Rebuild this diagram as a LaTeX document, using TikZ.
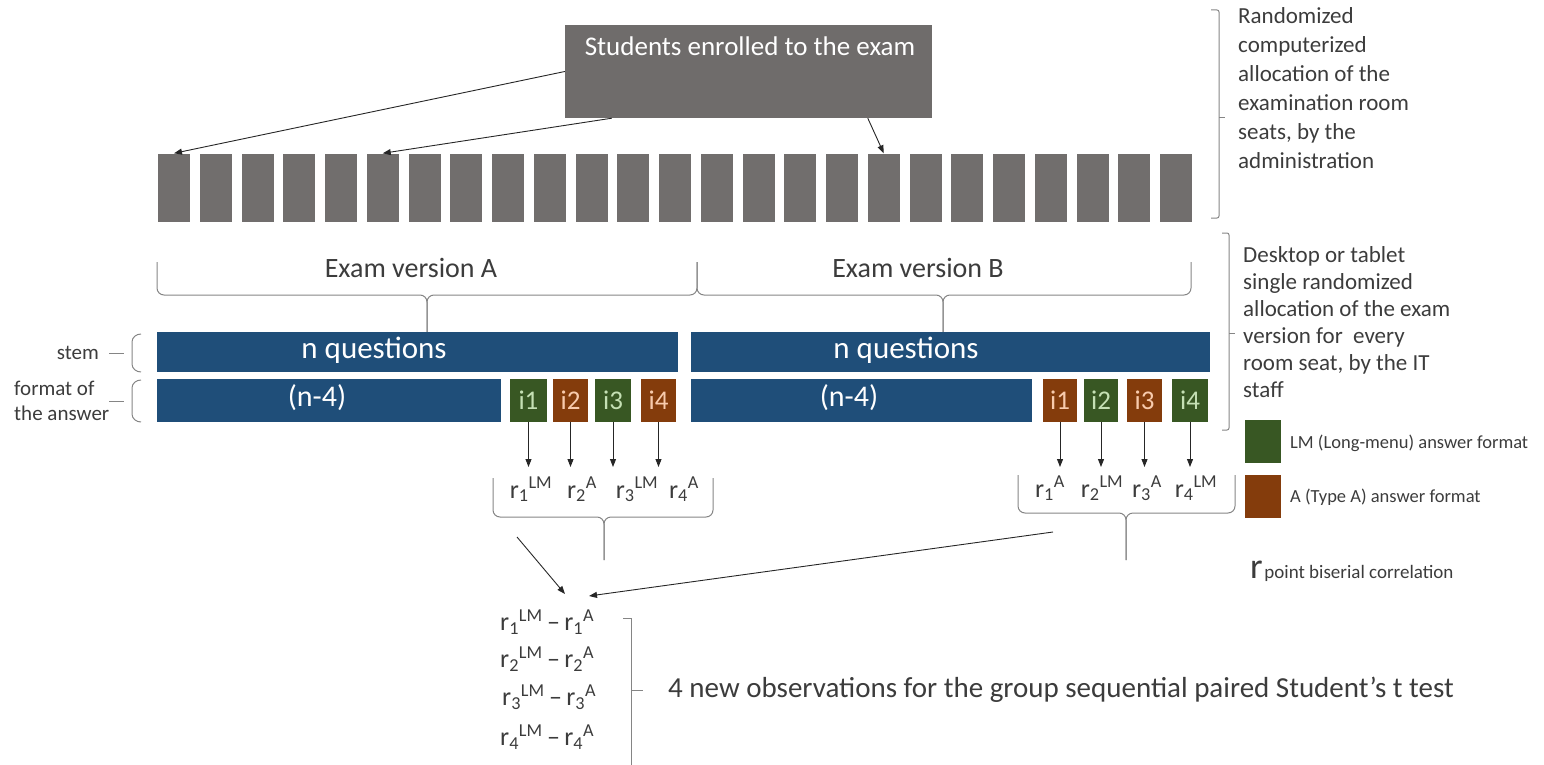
\documentclass[tikz,border=0pt]{standalone}
\usepackage{fontspec}
\setmainfont{Carlito}
\usetikzlibrary{arrows.meta}
\definecolor{seatgray}{HTML}{716E6D}
\definecolor{boxgray}{HTML}{6F6C6B}
\definecolor{qblue}{HTML}{1F4E79}
\definecolor{lmgreen}{HTML}{385723}
\definecolor{abrown}{HTML}{843C0C}
\definecolor{lmlight}{HTML}{C5E0B4}
\definecolor{alight}{HTML}{F8CBAD}
\definecolor{txt}{HTML}{3C3C3C}
\definecolor{brc}{HTML}{858585}
\definecolor{arrowc}{HTML}{262626}
\newcommand\rlab[2]{r\textsubscript{#1}\textsuperscript{#2}}
\begin{document}
\begin{tikzpicture}[x=1pt,y=-1pt,
  seat/.style={fill=seatgray, draw=none, minimum width=32pt, minimum height=68pt, inner sep=0pt},
  topbox/.style={fill=boxgray, draw=none, inner sep=0pt},
  bar/.style={fill=qblue, draw=none, inner sep=0pt, text=white, font=\fontsize{31}{31}\selectfont},
  lmbox/.style={fill=lmgreen, draw=none, inner sep=0pt, minimum height=43pt, text=lmlight, font=\fontsize{27}{27}\selectfont},
  abox/.style={fill=abrown, draw=none, inner sep=0pt, minimum height=43pt, text=alight, font=\fontsize{27}{27}\selectfont},
  conn/.style={-{Triangle[length=8pt,width=6pt]}, line width=0.9pt, draw=arrowc},
  bk/.style={draw=brc, line width=1pt},
  lbl/.style={text=txt, inner sep=0pt},
  rfont/.style={font=\fontsize{26}{28}\selectfont},
]
\useasboundingbox (0,0) rectangle (1544,765);

% top box
\node[topbox, minimum width=367pt, minimum height=93pt] (top) at (748.5,71.5) {};
\node[inner sep=0pt, text=white, font=\fontsize{27}{29}\selectfont] (toptext) at (750,46) {Students enrolled to the exam};

% seats
\foreach \i in {1,...,25}
  \node[seat] (s\i) at ({174+(\i-1)*41.75},187.5) {};

\draw[conn] (top.west) -- (s1.north);
\draw[conn] ([xshift=47pt]top.south west) -- (s6.north);
\draw[conn] ([xshift=303pt]top.south west) -- (s18.north);

% right bracket 1 and text
\draw[bk, rounded corners=2pt] (1211,10) -- (1219,10) -- (1219,218) -- (1211,218);
\draw[bk] (1219,118) -- (1225,118);
\node[lbl, anchor=north west, align=left, font=\fontsize{23}{29}\selectfont] (t1) at (1238,7)
 {Randomized\\computerized\\allocation of the\\examination room\\seats, by the\\administration};

% exam version braces
\draw[bk, rounded corners=7pt] (157,262) -- (157,295) -- (427,295) -- (427,332);
\draw[bk, rounded corners=7pt] (697,262) -- (697,295) -- (427,295) -- (427,332);
\draw[bk, rounded corners=7pt] (697,262) -- (697,295) -- (943,295) -- (943,332);
\draw[bk, rounded corners=7pt] (1191,262) -- (1191,295) -- (943,295) -- (943,332);
\node[lbl, font=\fontsize{28}{30}\selectfont] (exA) at (411,268) {Exam version A};
\node[lbl, font=\fontsize{28}{30}\selectfont] (exB) at (918,268) {Exam version B};

% right bracket 2 and text
\draw[bk, rounded corners=2pt] (1222,233) -- (1229,233) -- (1229,430) -- (1222,430);
\draw[bk] (1229,333) -- (1235,333);
\node[lbl, anchor=north west, align=left, font=\fontsize{23}{27}\selectfont] (t2) at (1243,246)
 {Desktop or tablet\\single randomized\\allocation of the exam\\version for\ \ every\\room seat, by the IT\\staff};

% bars
\node[bar, minimum width=521pt, minimum height=40pt] (nqA) at (417.5,352) {};
\node[bar, minimum width=519pt, minimum height=40pt] (nqB) at (950.5,352) {};
\node[inner sep=0pt, text=white, font=\fontsize{31}{31}\selectfont] (nqAt) at (374,350) {n questions};
\node[inner sep=0pt, text=white, font=\fontsize{31}{31}\selectfont] (nqBt) at (906,350) {n questions};
\node[bar, minimum width=344pt, minimum height=43pt] (fmA) at (329,400.5) {};
\node[bar, minimum width=341pt, minimum height=43pt] (fmB) at (861.5,400.5) {};
\node[inner sep=0pt, text=white, font=\fontsize{30}{30}\selectfont] (fmAt) at (317,398) {(n-4)};
\node[inner sep=0pt, text=white, font=\fontsize{30}{30}\selectfont] (fmBt) at (849,398) {(n-4)};

% item boxes
\node[lmbox, minimum width=37pt] (iA1) at (528.5,400.5) {i1};
\node[abox,  minimum width=35pt] (iA2) at (570.5,400.5) {i2};
\node[lmbox, minimum width=36pt] (iA3) at (613,400.5) {i3};
\node[abox,  minimum width=35pt] (iA4) at (658.5,400.5) {i4};
\node[abox,  minimum width=34pt] (iB1) at (1060,400.5) {i1};
\node[lmbox, minimum width=34pt] (iB2) at (1101,400.5) {i2};
\node[abox,  minimum width=35pt] (iB3) at (1144.5,400.5) {i3};
\node[lmbox, minimum width=36pt] (iB4) at (1190,400.5) {i4};

% left labels
\node[lbl, anchor=east, font=\fontsize{21}{23}\selectfont] (stem) at (99,353) {stem};
\node[lbl, anchor=west, align=left, font=\fontsize{21}{25}\selectfont] (fmt) at (14,401) {format of\\the answer};
\draw[bk] (141,334) to[out=180,in=90] (132,342) -- (132,364) to[out=-90,in=180] (141,372);
\draw[bk] (109,353) -- (124,353);
\draw[bk] (141,380) to[out=180,in=90] (132,388) -- (132,414) to[out=-90,in=180] (141,422);
\draw[bk] (109,401) -- (124,401);

% r labels
\coordinate (rtop) at (0,467);
\node[lbl, rfont, anchor=base] (rA1) at (531,498) {\rlab{1}{LM}};
\node[lbl, rfont, anchor=base] (rA2) at (582,498) {\rlab{2}{A}};
\node[lbl, rfont, anchor=base] (rA3) at (637,498) {\rlab{3}{LM}};
\node[lbl, rfont, anchor=base] (rA4) at (684,498) {\rlab{4}{A}};
\node[lbl, rfont, anchor=base] (rB1) at (1050,497) {\rlab{1}{A}};
\node[lbl, rfont, anchor=base] (rB2) at (1102,497) {\rlab{2}{LM}};
\node[lbl, rfont, anchor=base] (rB3) at (1147,497) {\rlab{3}{A}};
\node[lbl, rfont, anchor=base] (rB4) at (1196,497) {\rlab{4}{LM}};

\foreach \n in {iA1,iA2,iA3,iA4,iB1,iB2,iB3,iB4}
  \draw[conn] (\n.south) -- (\n.south |- rtop);

% r braces
\draw[bk, rounded corners=7pt] (493,478) -- (493,517) -- (604,517) -- (604,560);
\draw[bk, rounded corners=7pt] (713,478) -- (713,517) -- (604,517) -- (604,560);
\draw[bk, rounded corners=7pt] (1018,475) -- (1018,513) -- (1126,513) -- (1126,560);
\draw[bk, rounded corners=7pt] (1235,475) -- (1235,513) -- (1126,513) -- (1126,560);

% legend
\node[fill=lmgreen, minimum width=36pt, minimum height=43pt, inner sep=0pt] (legLM) at (1263,441.5) {};
\node[fill=abrown, minimum width=36pt, minimum height=43pt, inner sep=0pt] (legA) at (1263,496.5) {};
\node[lbl, anchor=west, font=\fontsize{18.5}{20}\selectfont] (legLMt) at (1290,443) {LM (Long-menu) answer format};
\node[lbl, anchor=west, font=\fontsize{18.5}{20}\selectfont] (legAt) at (1290,497) {A (Type A) answer format};
\node[lbl, anchor=base west] (legr) at (1250,578) {{\fontsize{36}{36}\selectfont r}\,{\fontsize{19}{20}\selectfont point biserial correlation}};

% bottom list
\node[lbl, rfont, anchor=west] (L1) at (500,622) {\rlab{1}{LM}\,–\,\rlab{1}{A}};
\node[lbl, rfont, anchor=west] (L2) at (500,659) {\rlab{2}{LM}\,–\,\rlab{2}{A}};
\node[lbl, rfont, anchor=west] (L3) at (502,697) {\rlab{3}{LM}\,–\,\rlab{3}{A}};
\node[lbl, rfont, anchor=west] (L4) at (500,737) {\rlab{4}{LM}\,–\,\rlab{4}{A}};

\coordinate (outA) at (517,537);
\coordinate (inA) at (565,594);
\coordinate (outB) at (1053,532);
\coordinate (inB) at (589,596);
\draw[conn] (outA) -- (inA);
\draw[conn] (outB) -- (inB);

\draw[bk] (623,618) -- (631,618) -- (631,765);
\draw[bk] (631,690) -- (643,690);
\node[lbl, anchor=west, font=\fontsize{29}{31}\selectfont] (obs) at (668,690) {4 new observations for the group sequential paired Student’s t test};
\end{tikzpicture}
\end{document}
